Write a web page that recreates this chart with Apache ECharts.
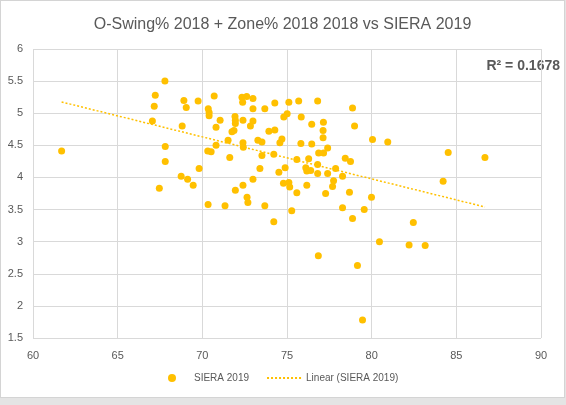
<!DOCTYPE html>
<html lang="en">
<head>
  <meta charset="UTF-8">
  <title>O-Swing% + Zone% vs SIERA</title>
  <style>
    html, body { margin: 0; padding: 0; background: #e4e4e4; }
    #chart { position: absolute; left: 0; top: 0; width: 563px; height: 396px; background: #fff; border: 1px solid #d4d4d4; }
  </style>
</head>
<body>
<div id="chart"></div>

<script src="https://cdn.jsdelivr.net/npm/echarts@6/dist/echarts.min.js"></script>

<script>
  // O-Swing% 2018 + Zone% 2018 (x) and SIERA 2019 (y)
  var swingZone = [
    61.69, 67.79, 67.22, 67.16, 67.05, 67.81, 67.81, 67.46, 68.91, 69.05,
    69.75, 68.81, 70.70, 70.35, 70.40, 70.40, 71.05, 70.81, 71.93, 71.95,
    71.95, 71.87, 71.75, 71.52, 70.81, 70.32, 70.52, 71.62, 69.81, 68.75,
    69.13, 69.46, 71.95, 70.34, 71.34, 72.34, 72.62, 72.99, 72.38, 72.99,
    73.69, 74.28, 75.11, 75.69, 76.81, 78.87, 72.40, 72.99, 72.84, 72.40,
    72.42, 73.28, 73.52, 73.52, 73.93, 74.28, 74.58, 74.70, 74.22, 74.81,
    75.01, 73.40, 72.99, 72.40, 72.64, 72.69, 73.69, 75.84, 76.46, 77.15,
    77.13, 77.13, 75.82, 76.46, 76.87, 77.16, 77.40, 75.58, 76.28, 74.89,
    74.52, 76.11, 76.17, 76.40, 76.81, 76.81, 77.40, 77.87, 78.44, 78.75,
    78.28, 77.75, 77.69, 74.79, 75.11, 75.16, 75.58, 76.17, 77.28, 78.69,
    79.99, 80.05, 80.95, 78.99, 74.22, 75.28, 78.28, 78.87, 79.56, 76.85,
    79.16, 79.46, 80.46, 82.21, 82.46, 84.52, 86.69, 84.22, 83.16
  ]
  var siera = [
    4.41, 5.50, 5.28, 5.11, 4.88, 4.48, 4.25, 3.83, 5.20, 5.09,
    5.19, 4.80, 5.27, 5.07, 5.01, 4.96, 4.89, 4.78, 4.95, 4.89,
    4.84, 4.73, 4.71, 4.58, 4.50, 4.41, 4.40, 4.31, 4.14, 4.02,
    3.97, 3.88, 3.80, 3.58, 3.56, 5.25, 5.26, 5.23, 5.17, 5.07,
    5.07, 5.16, 5.17, 5.19, 5.19, 5.08, 4.89, 4.88, 4.80, 4.54,
    4.47, 4.58, 4.55, 4.34, 4.72, 4.74, 4.54, 4.60, 4.36, 4.94,
    4.99, 4.14, 3.97, 3.88, 3.69, 3.61, 3.56, 4.94, 4.83, 4.86,
    4.73, 4.62, 4.53, 4.52, 4.38, 4.38, 4.46, 4.28, 4.29, 4.15,
    4.08, 4.15, 4.10, 4.11, 4.20, 4.06, 4.06, 4.14, 4.30, 4.25,
    4.02, 3.95, 3.86, 3.91, 3.92, 3.85, 3.76, 3.88, 3.75, 3.77,
    3.69, 4.59, 4.55, 4.80, 3.31, 3.48, 3.53, 3.36, 3.50, 2.78,
    2.63, 1.78, 3.00, 2.95, 3.30, 4.39, 4.31, 3.94, 2.94
  ]
  var rSquaredText = 'R\u00b2 = 0.1678'

  var points = swingZone.map(function(x, i) { return [x, siera[i]] })

  // least squares line over the points, drawn from min x to max x
  var n = points.length
  var mx = 0, my = 0
  points.forEach(function(p) { mx += p[0]; my += p[1] })
  mx /= n; my /= n
  var sxy = 0, sxx = 0
  points.forEach(function(p) { sxy += (p[0] - mx) * (p[1] - my); sxx += (p[0] - mx) * (p[0] - mx) })
  var slope = sxy / sxx
  var icpt = my - slope * mx
  var xMin = Math.min.apply(null, swingZone)
  var xMax = Math.max.apply(null, swingZone)
  var trend = [[xMin, icpt + slope * xMin], [xMax, icpt + slope * xMax]]

  var gold = '#FFC000'
  var txt = '#595959'
  var font = 'Liberation Sans'

  var myChart = echarts.init(document.getElementById('chart'), null, { renderer: 'canvas' })
  var option = {
    animation: false,
    textStyle: { fontFamily: font },
    title: {
      text: 'O-Swing% 2018 + Zone% 2018 2018 vs SIERA 2019',
      left: 'center',
      top: 11,
      textStyle: { fontFamily: font, fontSize: 16, fontWeight: 'normal', color: txt }
    },
    graphic: [{
      type: 'text',
      right: 4,
      top: 58,
      style: { text: rSquaredText, fontFamily: font, fontSize: 14, fontWeight: 'bold', fill: txt }
    }],
    grid: { left: 32, right: 23, top: 48, bottom: 59 },
    xAxis: {
      type: 'value',
      min: 60, max: 90, interval: 5,
      axisLine: { show: false },
      axisTick: { show: false },
      axisLabel: { color: txt, fontSize: 11, margin: 12 },
      splitLine: { lineStyle: { color: '#d9d9d9' } }
    },
    yAxis: {
      type: 'value',
      min: 1.5, max: 6, interval: 0.5,
      axisLine: { show: false },
      axisTick: { show: false },
      axisLabel: { color: txt, fontSize: 11, margin: 10 },
      splitLine: { lineStyle: { color: '#d9d9d9' } }
    },
    legend: {
      bottom: 9,
      left: 162,
      itemGap: 17,
      itemWidth: 34,
      itemHeight: 8,
      textStyle: { color: txt, fontSize: 10 },
      data: [
        { name: 'SIERA 2019', icon: 'circle', itemStyle: { color: gold } },
        { name: 'Linear (SIERA 2019)', itemStyle: { opacity: 0 } }
      ]
    },
    series: [
      {
        name: 'SIERA 2019',
        type: 'scatter',
        symbolSize: 7,
        itemStyle: { color: gold, opacity: 1 },
        data: points
      },
      {
        name: 'Linear (SIERA 2019)',
        type: 'line',
        symbol: 'none',
        itemStyle: { color: gold },
        lineStyle: { color: gold, width: 1.5, type: [2, 2] },
        data: trend
      }
    ]
  }
  myChart.setOption(option)
</script>
</body>
</html>
